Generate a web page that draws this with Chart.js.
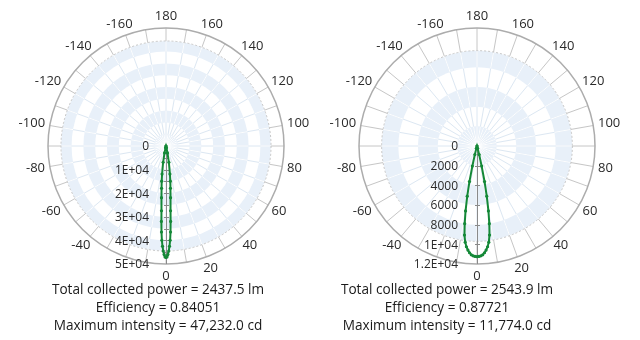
<!DOCTYPE html>
<html>
<head>
<meta charset="utf-8">
<script src="https://cdn.jsdelivr.net/npm/chart.js@4.4.1/dist/chart.umd.min.js"></script>
<style>
  body { margin: 0; width: 640px; height: 340px; background: #fff; position: relative; overflow: hidden; font-family: 'Open Sans', sans-serif; }
  .plot { position: absolute; top: 0; width: 320px; height: 280px; }
  .stats { position: absolute; top: 280px; width: 280px; text-align: center; font-size: 13.6px; line-height: 18px; color: #1a1a1a; }
</style>
</head>
<body>
<div class="plot" style="left:0"><canvas id="leftChart" width="320" height="280"></canvas></div>
<div class="plot" style="left:320px"><canvas id="rightChart" width="320" height="280"></canvas></div>
<div class="stats" id="leftStats" style="left:18px"></div>
<div class="stats" id="rightStats" style="left:307px"></div>
<script>
'use strict';

// angular resolution of the polar grid (degrees)
let step = 0.5;

// angle labels around the rim (-20 is hidden under the radial labels)
let angleTicks = [0, 20, 40, 60, 80, 100, 120, 140, 160, 180, -160, -140, -120, -100, -80, -60, -40];

// left plot: intensity (cd) vs angle (deg), symmetric lobe
let leftAngles = [0, 0.5, 1, 1.5, 2, 2.5, 3, 3.5, 4, 5, 6, 7, 8, 10, 12, 15, 20];
let leftValues = [47200, 47000, 46000, 44500, 42500, 40000, 36500, 32000, 27500, 22000, 18000, 15000, 12000, 7000, 3000, 800, 0];
let leftTickValues = [0, 10000, 20000, 30000, 40000, 50000];
let leftTickLabels = ['0', '1E+04', '2E+04', '3E+04', '4E+04', '5E+04'];
let leftStats = ['Total collected power = 2437.5 lm', 'Efficiency = 0.84051', 'Maximum intensity = 47,232.0 cd'];

// right plot
let rightAngles = [0, 1, 2, 3, 4, 5, 6, 7, 8, 9, 10, 11, 12, 13, 14, 15, 16];
let rightValues = [11250, 11230, 11180, 11080, 10880, 10620, 10300, 9850, 9150, 8000, 6700, 5200, 3700, 2100, 900, 250, 0];
let rightTickValues = [0, 2000, 4000, 6000, 8000, 10000, 12000];
let rightTickLabels = ['0', '2000', '4000', '6000', '8000', '1E+04', '1.2E+04'];
let rightStats = ['Total collected power = 2543.9 lm', 'Efficiency = 0.87721', 'Maximum intensity = 11,774.0 cd'];

let count = 360 / step;
let blue = '#e8f0f9';

// index 0 sits at the bottom, going clockwise through the negative angles
function angleLabels() {
  let labels = [];
  for (let i = 0; i < count; i++) {
    let a = -i * step;
    if (a <= -180) a += 360;
    labels.push(a);
  }
  return labels;
}

function indexOf(angle) {
  return ((Math.round(-angle / step) % count) + count) % count;
}

function buildData(angles, values) {
  let data = new Array(count).fill(null);
  for (let i = 0; i < angles.length; i++) {
    data[indexOf(angles[i])] = values[i];
    data[indexOf(-angles[i])] = values[i];
  }
  return data;
}

let polarDecor = {
  id: 'polarDecor',
  beforeDraw(chart) {
    let s = chart.scales.r;
    let o = chart.options.plugins.polarDecor;
    let ctx = chart.ctx;
    let ringIn = s.getDistanceFromCenterForValue(o.ringValue);
    let n = Math.ceil(o.ringValue / o.band);
    ctx.save();
    for (let i = n - 1; i >= 0; i--) {
      let r = Math.min(s.getDistanceFromCenterForValue((i + 1) * o.band), ringIn);
      ctx.beginPath();
      ctx.arc(s.xCenter, s.yCenter, r, 0, Math.PI * 2);
      ctx.fillStyle = i % 2 === 0 ? blue : '#ffffff';
      ctx.fill();
    }
    ctx.restore();
  },
  beforeDatasetsDraw(chart) {
    let s = chart.scales.r;
    let o = chart.options.plugins.polarDecor;
    let ctx = chart.ctx;
    let outer = s.getDistanceFromCenterForValue(s.max);
    let ringIn = s.getDistanceFromCenterForValue(o.ringValue);
    let n = Math.ceil(o.ringValue / o.band);
    ctx.save();

    // white spokes across the blue bands
    ctx.strokeStyle = 'rgba(255,255,255,0.95)';
    ctx.lineWidth = 1;
    for (let b = 0; b < n; b += 2) {
      let r1 = s.getDistanceFromCenterForValue(b * o.band);
      let r2 = Math.min(s.getDistanceFromCenterForValue((b + 1) * o.band), ringIn);
      for (let i = 0; i < count; i += 10 / step) {
        let p1 = s.getPointPosition(i, r1);
        let p2 = s.getPointPosition(i, r2);
        ctx.beginPath();
        ctx.moveTo(p1.x, p1.y);
        ctx.lineTo(p2.x, p2.y);
        ctx.stroke();
      }
    }

    // rim: divided ring
    ctx.fillStyle = '#ffffff';
    ctx.beginPath();
    ctx.arc(s.xCenter, s.yCenter, outer, 0, Math.PI * 2);
    ctx.arc(s.xCenter, s.yCenter, ringIn, 0, Math.PI * 2, true);
    ctx.fill();
    ctx.strokeStyle = '#c6c6c6';
    for (let i = 0; i < count; i += 10 / step) {
      let p1 = s.getPointPosition(i, ringIn);
      let p2 = s.getPointPosition(i, outer);
      ctx.beginPath();
      ctx.moveTo(p1.x, p1.y);
      ctx.lineTo(p2.x, p2.y);
      ctx.stroke();
    }
    ctx.setLineDash([2, 2]);
    ctx.beginPath();
    ctx.arc(s.xCenter, s.yCenter, ringIn, 0, Math.PI * 2);
    ctx.stroke();
    ctx.setLineDash([]);
    ctx.strokeStyle = '#acacac';
    ctx.lineWidth = 1.5;
    ctx.beginPath();
    ctx.arc(s.xCenter, s.yCenter, outer, 0, Math.PI * 2);
    ctx.stroke();

    // radial axis pointing to 0 deg
    ctx.strokeStyle = '#8a8a8a';
    ctx.lineWidth = 1;
    ctx.beginPath();
    ctx.moveTo(s.xCenter + 0.5, s.yCenter);
    ctx.lineTo(s.xCenter + 0.5, s.yCenter + outer);
    ctx.stroke();
    for (let v = o.band; v < s.max; v += o.band) {
      let y = Math.round(s.yCenter + s.getDistanceFromCenterForValue(v)) + 0.5;
      ctx.beginPath();
      ctx.moveTo(s.xCenter - 2, y);
      ctx.lineTo(s.xCenter + 3, y);
      ctx.stroke();
    }

    // radial tick labels
    ctx.fillStyle = '#2a2a2a';
    ctx.font = '12px "Open Sans", sans-serif';
    ctx.textAlign = 'right';
    ctx.textBaseline = 'middle';
    for (let i = 0; i < o.tickValues.length; i++) {
      let y = s.yCenter + s.getDistanceFromCenterForValue(o.tickValues[i]) + 1;
      ctx.fillText(o.tickLabels[i], s.xCenter - o.labelGap, y);
    }

    // angle labels
    ctx.font = '13px "Open Sans", sans-serif';
    ctx.textAlign = 'center';
    for (let a of angleTicks) {
      let p = s.getPointPosition(indexOf(a), outer + 5);
      let w = ctx.measureText(String(a)).width;
      let dx = Math.cos(p.angle), dy = Math.sin(p.angle);
      ctx.fillText(String(a), p.x + dx * w / 2, p.y + dy * 7);
    }
    ctx.restore();
  }
};

function makeChart(id, data, max, band, ringValue, tickValues, tickLabels, pad, labelGap) {
  return new Chart(document.getElementById(id), {
    type: 'radar',
    data: {
      labels: angleLabels(),
      datasets: [{
        data: buildData(data.angles, data.values),
        borderColor: '#148837',
        backgroundColor: '#148837',
        borderWidth: 2,
        pointRadius: 1.6,
        pointBorderWidth: 0,
        spanGaps: true,
        fill: false
      }]
    },
    options: {
      responsive: false,
      animation: false,
      devicePixelRatio: 1,
      layout: { padding: pad },
      plugins: {
        legend: { display: false },
        tooltip: { enabled: false },
        polarDecor: { band: band, ringValue: ringValue, tickValues: tickValues, tickLabels: tickLabels, labelGap: labelGap }
      },
      scales: {
        r: {
          startAngle: 180,
          min: 0,
          max: max,
          ticks: { display: false, stepSize: band },
          pointLabels: { display: false },
          grid: { display: false },
          angleLines: {
            color: '#dce7f2',
            lineWidth: (c) => c.index % (10 / step) === 0 ? 1 : 0
          }
        }
      }
    },
    plugins: [polarDecor]
  });
}

makeChart('leftChart', { angles: leftAngles, values: leftValues }, 50000, 5000, 44500,
  leftTickValues, leftTickLabels, { left: 48, right: 36, top: 28, bottom: 16 }, 17);
makeChart('rightChart', { angles: rightAngles, values: rightValues }, 12000, 2000, 9700,
  rightTickValues, rightTickLabels, { left: 39, right: 45, top: 28, bottom: 16 }, 19);

function renderStats(id, lines) {
  let box = document.getElementById(id);
  for (let i = 0; i < lines.length; i++) {
    let div = document.createElement('div');
    div.textContent = lines[i];
    box.appendChild(div);
  }
}
renderStats('leftStats', leftStats);
renderStats('rightStats', rightStats);
</script>
</body>
</html>
